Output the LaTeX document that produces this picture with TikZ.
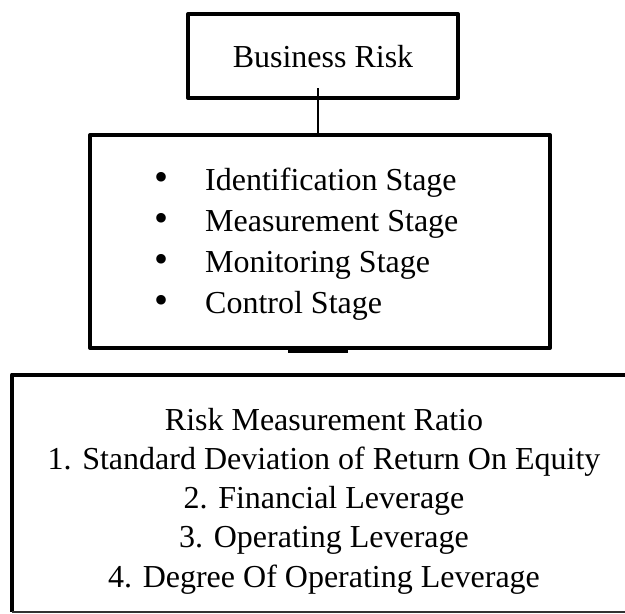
\documentclass[tikz,border=0pt]{standalone}
\usepackage{fontspec}
\setmainfont{Liberation Serif}
\newcommand{\bigbul}{\makebox[49pt][l]{\hspace*{-2pt}{\fontsize{40}{41}\selectfont•}}}
\begin{document}
\begin{tikzpicture}[x=1pt,y=-1pt,
  boxframe/.style={draw=black, line width=4pt, line join=round, rectangle, inner sep=0pt},
  txt/.style={inner sep=0pt, font=\fontsize{32}{39.3}\selectfont},
  thinline/.style={draw=black, line width=1.5pt}]
\useasboundingbox (0,0) rectangle (625,614);
% top box
\node[boxframe, minimum width=270pt, minimum height=84pt] (b1) at (323,56) {};
\node[txt] (t1) at (323,57) {Business Risk};
% middle box
\node[boxframe, minimum width=460pt, minimum height=213pt] (b2) at (320,241.5) {};
\node[txt, anchor=west, align=left, font=\fontsize{32}{41}\selectfont] (lst) at (156,244.5)
  {\bigbul Identification Stage\\
   \bigbul Measurement Stage\\
   \bigbul Monitoring Stage\\
   \bigbul Control Stage};
% connector top -> middle
\coordinate (c1) at (318,88);
\draw[thinline] (c1) -- (c1 |- b2.north);
% short stub below middle box
\coordinate (s1) at (288,351);
\coordinate (s2) at (348,351);
\draw[line width=3pt] (s1) -- (s2);
% bottom box (open on the right)
\coordinate (b3tl) at (12,374.5);
\coordinate (b3tr) at (630,374.5);
\coordinate (b3bl) at (12,612);
\coordinate (b3br) at (630,612);
\draw[line width=4pt, line join=round] (b3tr) -- (b3tl) -- (b3bl);
\draw[line width=1.5pt, draw=black!80] (b3bl) -- (b3br);
\node[txt, align=center] (b3) at (324,501)
  {Risk Measurement Ratio\\
   1. Standard Deviation of Return On Equity\\
   2. Financial Leverage\\
   3. Operating Leverage\\
   4. Degree Of Operating Leverage};
\end{tikzpicture}
\end{document}
